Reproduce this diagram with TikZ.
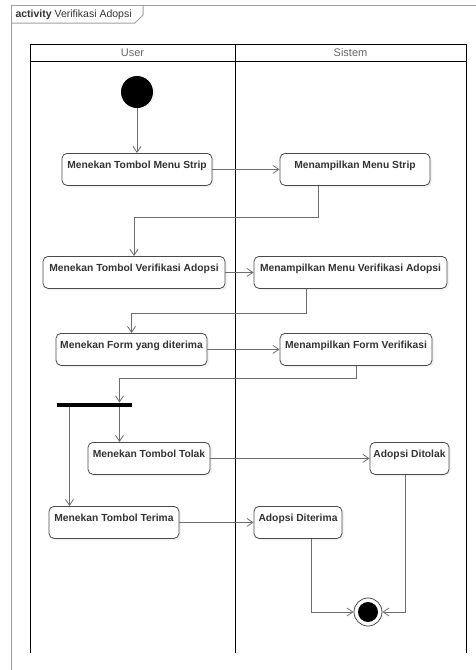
\documentclass[tikz,border=0pt]{standalone}
\usepackage{fontspec}
\setmainfont{Liberation Sans}
\usetikzlibrary{arrows.meta,shadows}

\definecolor{umltext}{HTML}{333333}
\definecolor{umlline}{HTML}{6E6E6E}
\definecolor{umlborder}{HTML}{4A4A4A}
\definecolor{umlframe}{HTML}{A0A0A0}

\tikzstyle{action} = [shape=rectangle,rounded corners=5pt,draw=umlborder,fill=white,line width=0.8pt,
  font=\fontsize{10.3}{12}\selectfont\bfseries,text=umltext,text height=15pt,text depth=17pt,
  inner ysep=0pt,anchor=north,drop shadow={shadow xshift=2pt,shadow yshift=-2pt,fill=black!10}]
\tikzstyle{flow} = [draw=umlline,line width=0.8pt,-{Straight Barb[length=6pt,width=8pt]}]
\tikzstyle{lane} = [draw=black,line width=1pt]
\tikzstyle{lanehead} = [font=\fontsize{11}{13}\selectfont,text=black!60]
\tikzstyle{startnode} = [circle,fill=black,minimum size=32pt,inner sep=0pt,
  drop shadow={shadow xshift=2pt,shadow yshift=-1pt,fill=black!8}]
\tikzstyle{endnode} = [circle,draw=umlborder,fill=white,line width=0.8pt,minimum size=28pt,inner sep=0pt,
  path picture={\fill[black] (path picture bounding box.center) circle (10pt);}]
\tikzstyle{forkbar} = [rectangle,fill=black,minimum width=75pt,minimum height=4.5pt,inner sep=0pt]

\begin{document}
\begin{tikzpicture}[x=1pt,y=-1pt]
    \useasboundingbox (0,0) rectangle (476,670);
    %% frame and title tab
    \draw[umlframe,line width=1pt] (11,670) -- (11,5) -- (476,5);
    \draw[umlframe,line width=1pt] (11,23) -- (135,23) -- (143,15) -- (143,5);
    \node[anchor=west,font=\fontsize{10.5}{12}\selectfont,text=umltext] (title) at (12,14.5)
      {\textbf{activity} Verifikasi Adopsi};
    %% swimlanes
    \draw[lane] (30,653) -- (30,44) -- (466,44) -- (466,653);
    \draw[lane] (30,61) -- (466,61);
    \draw[lane] (235,44) -- (235,653);
    \node[lanehead] (user) at (132.5,52.5) {User};
    \node[lanehead] (sistem) at (350.5,52.5) {Sistem};
    %% start, end and fork
    \node[startnode] (start) at (137,92) {};
    \node[endnode] (stop) at (368,612) {};
    \node[forkbar] (fork) at (94.5,405) {};
    %% actions
    \foreach \nodename/\x/\y/\w/\caption in {
      tekanMenu/137/153/150/Menekan Tombol Menu Strip,
      tampilMenu/355/153/150/Menampilkan Menu Strip,
      tekanVerif/134/256/182/Menekan Tombol Verifikasi Adopsi,
      tampilVerif/350.5/256/193/Menampilkan Menu Verifikasi Adopsi,
      tekanForm/131.5/333/151/Menekan Form yang diterima,
      tampilForm/356/333/152/Menampilkan Form Verifikasi,
      tekanTolak/149/442/122/Menekan Tombol Tolak,
      tekanTerima/114/506/130/Menekan Tombol Terima,
      ditolak/409.5/442/79/Adopsi Ditolak,
      diterima/298/506/88/Adopsi Diterima}
    {
      \node[action,minimum width=\w*1pt] (\nodename) at (\x,\y) {\caption};
    }
    %% straight flows
    \draw[flow] (start) -- (tekanMenu);
    \foreach \startnode/\endnode in {
      tekanMenu/tampilMenu, tekanVerif/tampilVerif, tekanForm/tampilForm,
      tekanTolak/ditolak, tekanTerima/diterima}
    {
      \draw[flow] (\startnode) -- (\endnode);
    }
    %% elbow flows
    \draw[flow] ([xshift=-37pt]tampilMenu.south) -- ++(0,32) -| (tekanVerif.north);
    \draw[flow] ([xshift=-44.5pt]tampilVerif.south) -- ++(0,25) -| (tekanForm.north);
    \draw[flow] (tampilForm.south) -- ++(0,13) -| ([xshift=25pt]fork.north);
    \draw[flow] ([xshift=25pt]fork.south) -- ([xshift=25pt]fork.south |- tekanTolak.north);
    \draw[flow] ([xshift=-25pt]fork.south) -- ([xshift=-25pt]fork.south |- tekanTerima.north);
    \draw[flow] ([xshift=13pt]diterima.south) |- (stop);
    \draw[flow] ([xshift=-4.5pt]ditolak.south) |- (stop);
\end{tikzpicture}
\end{document}
